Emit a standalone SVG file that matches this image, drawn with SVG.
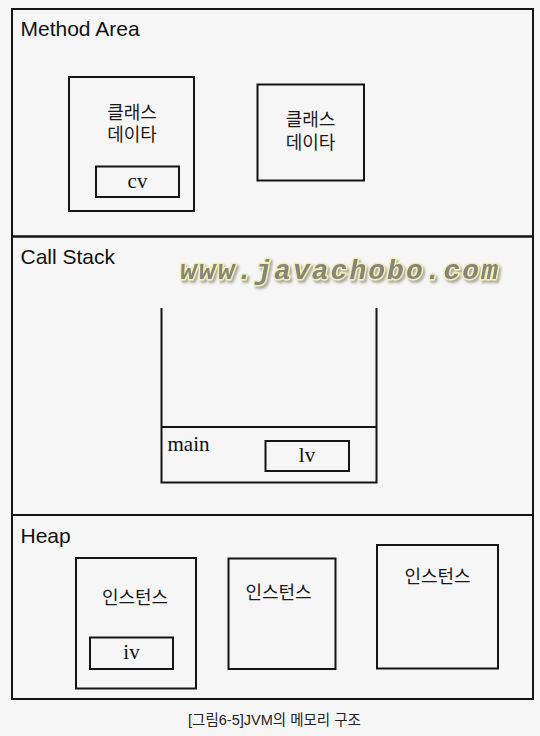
<svg xmlns="http://www.w3.org/2000/svg" width="540" height="736" viewBox="0 0 540 736">
  <defs>
    <style>
      .frame { fill: none; stroke: #151515; stroke-width: 2; }
      .box { fill: none; stroke: #151515; stroke-width: 2; }
      .area { font-family: "Liberation Sans", Arial, sans-serif; font-size: 21px; fill: #111; }
      .ko { font-family: "Liberation Sans", "Noto Sans CJK KR", sans-serif; font-size: 18px; fill: #1a1a1a; text-anchor: middle; }
      .var { font-family: "Liberation Serif", "Times New Roman", serif; font-size: 21px; fill: #111; text-anchor: middle; }
      .cap { font-family: "Liberation Sans", "Noto Sans CJK KR", sans-serif; font-size: 14.5px; fill: #222; text-anchor: middle; }
      .wm { font-family: "Liberation Mono", "Courier New", monospace; font-size: 28px; font-style: italic; font-weight: bold; }
    </style>
    <filter id="shadow" x="-10%" y="-40%" width="120%" height="180%">
      <feDropShadow dx="2" dy="2.5" stdDeviation="1.2" flood-color="#8c8c84" flood-opacity="0.7"/>
    </filter>
  </defs>

  <rect x="0" y="0" width="540" height="736" fill="#f6f6f6"/>

  <!-- memory area frames -->
  <g id="method-area">
    <rect class="frame" x="12" y="9" width="521" height="227.5"/>
    <text class="area" x="20.5" y="36">Method Area</text>
  </g>
  <g id="call-stack">
    <rect class="frame" x="12" y="236.5" width="521" height="278.5"/>
    <text class="area" x="20.5" y="264">Call Stack</text>
  </g>
  <g id="heap">
    <rect class="frame" x="12" y="515" width="521" height="184"/>
    <text class="area" x="20.5" y="543">Heap</text>
  </g>

  <!-- Method Area contents -->
  <g id="class-data-1">
    <rect class="box" x="69" y="77" width="125" height="134"/>
    <text class="ko" x="132" y="119">클래스</text>
    <text class="ko" x="132" y="141">데이타</text>
  </g>
  <g id="cv">
    <rect class="box" x="96" y="166.5" width="83" height="30.5"/>
    <text class="var" x="137.5" y="188">cv</text>
  </g>
  <g id="class-data-2">
    <rect class="box" x="257.5" y="84.5" width="106.5" height="96"/>
    <text class="ko" x="310.5" y="126">클래스</text>
    <text class="ko" x="310.5" y="149">데이타</text>
  </g>

  <!-- Call Stack contents -->
  <g id="stack">
    <polyline class="box" points="161.5,308 161.5,482.5 376.5,482.5 376.5,308"/>
  </g>
  <g id="main-frame">
    <line class="box" x1="161.5" y1="427" x2="376.5" y2="427"/>
    <text class="var" x="167.5" y="451" style="text-anchor:start">main</text>
  </g>
  <g id="lv">
    <rect class="box" x="265.5" y="441" width="83.5" height="30"/>
    <text class="var" x="307" y="462">lv</text>
  </g>

  <!-- Heap contents -->
  <g id="instance-1">
    <rect class="box" x="76" y="558" width="120" height="130.5"/>
    <text class="ko" x="135" y="603.5">인스턴스</text>
  </g>
  <g id="iv">
    <rect class="box" x="90" y="637.5" width="83" height="31.5"/>
    <text class="var" x="131.5" y="659">iv</text>
  </g>
  <g id="instance-2">
    <rect class="box" x="228.5" y="558.5" width="107" height="110.5"/>
    <text class="ko" x="278.5" y="598.5">인스턴스</text>
  </g>
  <g id="instance-3">
    <rect class="box" x="377" y="545" width="121" height="123.5"/>
    <text class="ko" x="437.5" y="582.5">인스턴스</text>
  </g>

  <g id="connectors"></g>

  <!-- watermark -->
  <g id="watermark">
    <text class="wm" x="180" y="278.5" textLength="318" lengthAdjust="spacing" fill="#858579" stroke="#f3efb2" stroke-width="3" paint-order="stroke" stroke-linejoin="round" filter="url(#shadow)">www.javachobo.com</text>
  </g>

  <!-- caption -->
  <text class="cap" x="274.5" y="725">[그림6-5]JVM의 메모리 구조</text>
</svg>
